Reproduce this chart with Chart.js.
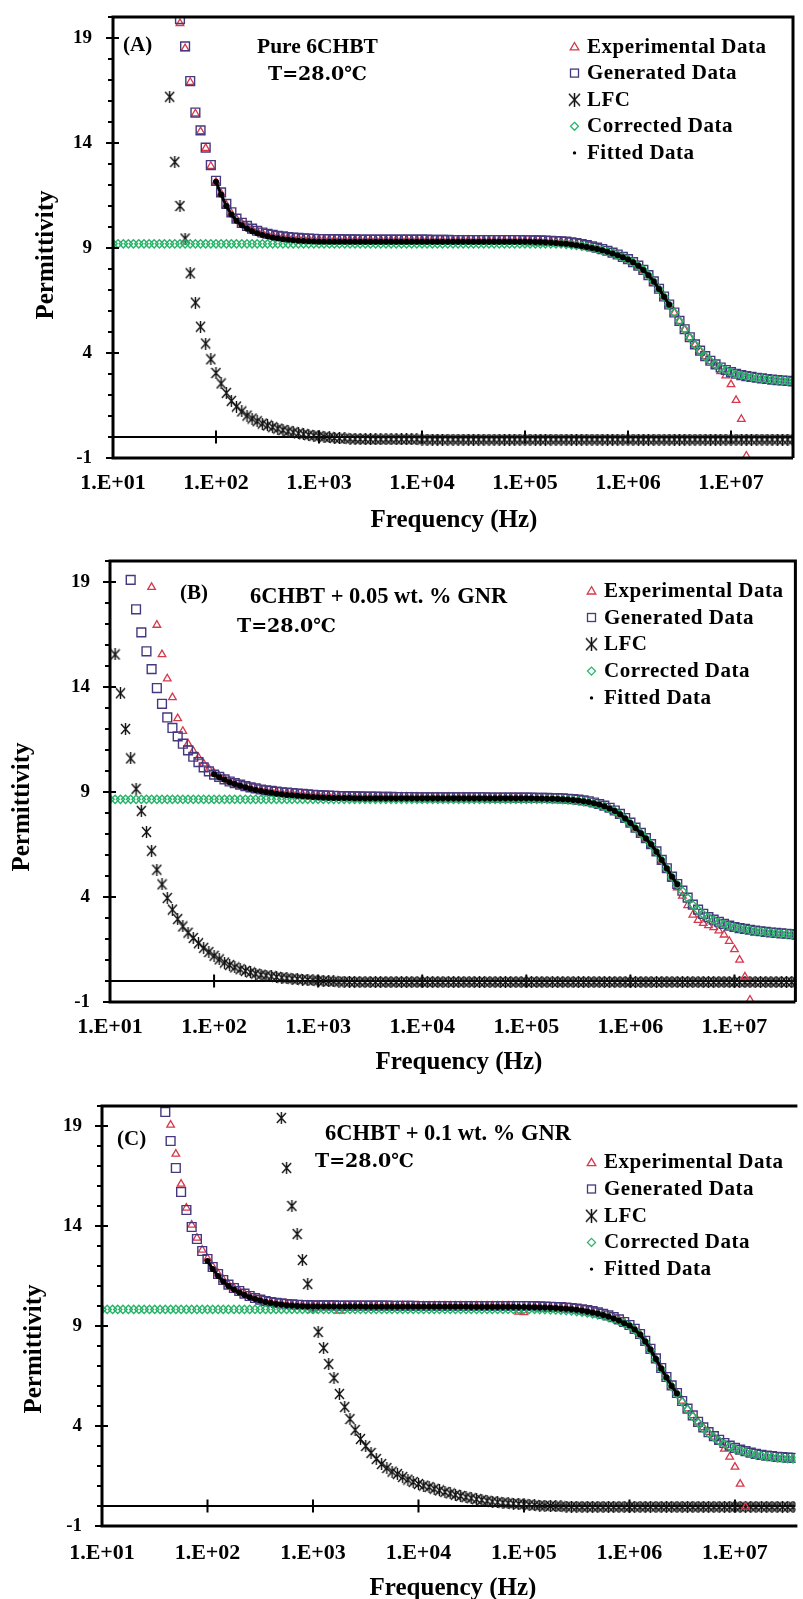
<!DOCTYPE html>
<html>
<head>
<meta charset="utf-8">
<title>Permittivity vs frequency - 6CHBT and GNR composites</title>
<script src="https://cdn.jsdelivr.net/npm/chart.js"></script>
<style>
  body { margin: 0; background: #fff; }
  .panel { position: absolute; left: 0; }
</style>
</head>
<body>
<canvas id="panelA" class="panel" width="803" height="540" style="top:0"></canvas>
<canvas id="panelB" class="panel" width="803" height="535" style="top:540px"></canvas>
<canvas id="panelC" class="panel" width="803" height="524" style="top:1075px"></canvas>
<script>
// frequency sweep (Hz), same for all three samples
const freq = [
  1.00e1, 1.12e1, 1.26e1, 1.41e1, 1.58e1, 1.78e1, 2.00e1, 2.24e1, 2.51e1, 2.82e1,
  3.16e1, 3.55e1, 3.98e1, 4.47e1, 5.01e1, 5.62e1, 6.31e1, 7.08e1, 7.94e1, 8.91e1,
  1.00e2, 1.12e2, 1.26e2, 1.41e2, 1.58e2, 1.78e2, 2.00e2, 2.24e2, 2.51e2, 2.82e2,
  3.16e2, 3.55e2, 3.98e2, 4.47e2, 5.01e2, 5.62e2, 6.31e2, 7.08e2, 7.94e2, 8.91e2,
  1.00e3, 1.12e3, 1.26e3, 1.41e3, 1.58e3, 1.78e3, 2.00e3, 2.24e3, 2.51e3, 2.82e3,
  3.16e3, 3.55e3, 3.98e3, 4.47e3, 5.01e3, 5.62e3, 6.31e3, 7.08e3, 7.94e3, 8.91e3,
  1.00e4, 1.12e4, 1.26e4, 1.41e4, 1.58e4, 1.78e4, 2.00e4, 2.24e4, 2.51e4, 2.82e4,
  3.16e4, 3.55e4, 3.98e4, 4.47e4, 5.01e4, 5.62e4, 6.31e4, 7.08e4, 7.94e4, 8.91e4,
  1.00e5, 1.12e5, 1.26e5, 1.41e5, 1.58e5, 1.78e5, 2.00e5, 2.24e5, 2.51e5, 2.82e5,
  3.16e5, 3.55e5, 3.98e5, 4.47e5, 5.01e5, 5.62e5, 6.31e5, 7.08e5, 7.94e5, 8.91e5,
  1.00e6, 1.12e6, 1.26e6, 1.41e6, 1.58e6, 1.78e6, 2.00e6, 2.24e6, 2.51e6, 2.82e6,
  3.16e6, 3.55e6, 3.98e6, 4.47e6, 5.01e6, 5.62e6, 6.31e6, 7.08e6, 7.94e6, 8.91e6,
  1.00e7, 1.12e7, 1.26e7, 1.41e7, 1.58e7, 1.78e7, 2.00e7, 2.24e7, 2.51e7, 2.82e7,
  3.16e7, 3.55e7, 3.98e7
];

const seriesNames = ['Experimental Data', 'Generated Data', 'LFC', 'Corrected Data', 'Fitted Data'];
const xTickValues = [1e1, 1e2, 1e3, 1e4, 1e5, 1e6, 1e7];
const xTickLabels = ['1.E+01', '1.E+02', '1.E+03', '1.E+04', '1.E+05', '1.E+06', '1.E+07'];
const yTickValues = [-1, 4, 9, 14, 19];

// (A) pure 6CHBT
const expA = [
  null, null, null, null, null, null, null, null, null, null,
  null, null, null, 19.7, 18.5, 16.9, 15.4, 14.55, 13.75, 12.9,
  12.15, 11.6, 11.05, 10.65, 10.38, 10.18, 10.03, 9.9, 9.8, 9.72,
  9.66, 9.61, 9.56, 9.53, 9.5, 9.48, 9.46, 9.44, 9.43, 9.42,
  9.41, 9.41, 9.4, 9.4, 9.4, 9.39, 9.39, 9.39, 9.38, 9.38,
  9.38, 9.38, 9.38, 9.38, 9.38, 9.38, 9.38, 9.38, 9.38, 9.38,
  9.38, 9.38, 9.37, 9.37, 9.37, 9.37, 9.37, 9.37, 9.37, 9.37,
  9.36, 9.36, 9.36, 9.36, 9.36, 9.36, 9.36, 9.36, 9.36, 9.36,
  9.36, 9.35, 9.35, 9.34, 9.33, 9.32, 9.31, 9.3, 9.28, 9.25,
  9.21, 9.17, 9.12, 9.06, 9.0, 8.93, 8.85, 8.76, 8.67, 8.56,
  8.45, 8.31, 8.14, 7.94, 7.69, 7.39, 7.04, 6.67, 6.29, 5.91,
  5.51, 5.11, 4.73, 4.39, 4.09, 3.83, 3.6, 3.4, 3.12, 2.92,
  2.5, 1.75, 0.85, -0.9, null, null, null, null, null, null,
  null, null, null
];
const genA = [
  null, null, null, null, null, null, null, null, null, null,
  null, null, null, 19.9, 18.6, 16.95, 15.45, 14.6, 13.78, 12.95,
  12.2, 11.65, 11.1, 10.7, 10.4, 10.2, 10.05, 9.92, 9.82, 9.74,
  9.68, 9.63, 9.58, 9.55, 9.52, 9.5, 9.48, 9.46, 9.45, 9.44,
  9.43, 9.43, 9.42, 9.42, 9.42, 9.41, 9.41, 9.41, 9.4, 9.4,
  9.4, 9.4, 9.4, 9.4, 9.4, 9.4, 9.4, 9.4, 9.4, 9.4,
  9.4, 9.4, 9.39, 9.39, 9.39, 9.39, 9.38, 9.38, 9.38, 9.38,
  9.38, 9.38, 9.38, 9.38, 9.38, 9.38, 9.38, 9.38, 9.38, 9.38,
  9.37, 9.37, 9.36, 9.36, 9.35, 9.34, 9.33, 9.32, 9.3, 9.27,
  9.23, 9.19, 9.14, 9.08, 9.02, 8.95, 8.87, 8.78, 8.69, 8.58,
  8.47, 8.33, 8.16, 7.96, 7.71, 7.41, 7.06, 6.69, 6.31, 5.93,
  5.53, 5.13, 4.75, 4.41, 4.11, 3.85, 3.63, 3.46, 3.31, 3.19,
  3.09, 3.01, 2.95, 2.9, 2.86, 2.82, 2.79, 2.76, 2.73, 2.71,
  2.69, 2.67, 2.65
];
const lfcA = [
  null, null, null, null, null, null, null, null, null, null,
  null, 16.2, 13.1, 11.0, 9.45, 7.8, 6.4, 5.25, 4.45, 3.7,
  3.05, 2.55, 2.1, 1.72, 1.45, 1.22, 1.02, 0.88, 0.75, 0.64,
  0.55, 0.47, 0.4, 0.33, 0.27, 0.22, 0.17, 0.13, 0.09, 0.06,
  0.03, 0, -0.02, -0.04, -0.06, -0.07, -0.08, -0.09, -0.1, -0.1,
  -0.11, -0.11, -0.11, -0.11, -0.11, -0.11, -0.11, -0.11, -0.11, -0.11,
  -0.12, -0.12, -0.12, -0.12, -0.12, -0.12, -0.12, -0.12, -0.12, -0.12,
  -0.12, -0.12, -0.12, -0.12, -0.12, -0.12, -0.12, -0.12, -0.12, -0.12,
  -0.12, -0.12, -0.12, -0.12, -0.12, -0.12, -0.12, -0.12, -0.12, -0.12,
  -0.12, -0.12, -0.12, -0.12, -0.12, -0.12, -0.12, -0.12, -0.12, -0.12,
  -0.12, -0.12, -0.12, -0.12, -0.12, -0.12, -0.12, -0.12, -0.12, -0.12,
  -0.12, -0.12, -0.12, -0.12, -0.12, -0.12, -0.12, -0.12, -0.12, -0.12,
  -0.12, -0.12, -0.12, -0.12, -0.12, -0.12, -0.12, -0.12, -0.12, -0.12,
  -0.12, -0.12, -0.12
];
const corrA = [
  9.2, 9.2, 9.2, 9.2, 9.2, 9.2, 9.2, 9.2, 9.2, 9.2,
  9.2, 9.2, 9.2, 9.2, 9.2, 9.2, 9.2, 9.2, 9.2, 9.2,
  9.2, 9.2, 9.2, 9.2, 9.2, 9.2, 9.2, 9.2, 9.2, 9.2,
  9.2, 9.2, 9.2, 9.2, 9.2, 9.2, 9.2, 9.2, 9.2, 9.2,
  9.2, 9.2, 9.2, 9.2, 9.2, 9.2, 9.2, 9.2, 9.2, 9.2,
  9.2, 9.2, 9.2, 9.2, 9.2, 9.2, 9.2, 9.2, 9.2, 9.2,
  9.2, 9.2, 9.2, 9.2, 9.2, 9.2, 9.2, 9.2, 9.2, 9.2,
  9.2, 9.2, 9.2, 9.2, 9.2, 9.2, 9.2, 9.2, 9.2, 9.2,
  9.2, 9.2, 9.2, 9.2, 9.2, 9.2, 9.2, 9.19, 9.17, 9.15,
  9.12, 9.09, 9.05, 9.0, 8.95, 8.89, 8.82, 8.74, 8.66, 8.56,
  8.45, 8.32, 8.15, 7.95, 7.7, 7.4, 7.05, 6.68, 6.3, 5.92,
  5.52, 5.12, 4.74, 4.4, 4.1, 3.84, 3.62, 3.45, 3.3, 3.18,
  3.08, 3.0, 2.94, 2.89, 2.85, 2.81, 2.78, 2.75, 2.72, 2.7,
  2.68, 2.66, 2.64
];
const fitA = [
  null, null, null, null, null, null, null, null, null, null,
  null, null, null, null, null, null, null, null, null, null,
  12.15, 11.55, 11.0, 10.6, 10.3, 10.08, 9.92, 9.8, 9.7, 9.62,
  9.56, 9.5, 9.46, 9.42, 9.39, 9.37, 9.35, 9.33, 9.32, 9.31,
  9.3, 9.3, 9.3, 9.3, 9.3, 9.3, 9.3, 9.3, 9.3, 9.3,
  9.3, 9.3, 9.3, 9.3, 9.3, 9.3, 9.3, 9.3, 9.3, 9.3,
  9.3, 9.3, 9.3, 9.3, 9.3, 9.3, 9.3, 9.3, 9.3, 9.3,
  9.3, 9.3, 9.3, 9.3, 9.3, 9.3, 9.3, 9.3, 9.3, 9.3,
  9.3, 9.3, 9.29, 9.28, 9.27, 9.26, 9.24, 9.22, 9.2, 9.17,
  9.13, 9.09, 9.05, 9.0, 8.95, 8.89, 8.82, 8.74, 8.66, 8.56,
  8.45, 8.32, 8.15, 7.95, 7.7, 7.4, 7.05, 6.68, 6.3, null,
  null, null, null, null, null, null, null, null, null, null,
  null, null, null, null, null, null, null, null, null, null,
  null, null, null
];

// (B) 6CHBT + 0.05 wt.% GNR
const expB = [
  null, null, null, null, null, null, null, null, 18.75, 16.95,
  15.55, 14.4, 13.5, 12.5, 11.9, 11.3, 10.95, 10.65, 10.35, 10.1,
  9.9, 9.75, 9.62, 9.51, 9.42, 9.34, 9.27, 9.21, 9.16, 9.11,
  9.07, 9.04, 9.01, 8.98, 8.96, 8.94, 8.92, 8.9, 8.88, 8.86,
  8.84, 8.83, 8.82, 8.81, 8.8, 8.79, 8.79, 8.78, 8.78, 8.77,
  8.77, 8.77, 8.77, 8.77, 8.77, 8.76, 8.76, 8.76, 8.76, 8.76,
  8.75, 8.75, 8.75, 8.75, 8.75, 8.75, 8.75, 8.75, 8.75, 8.75,
  8.74, 8.74, 8.74, 8.74, 8.74, 8.74, 8.74, 8.74, 8.74, 8.74,
  8.73, 8.72, 8.72, 8.71, 8.71, 8.7, 8.69, 8.68, 8.66, 8.64,
  8.62, 8.58, 8.53, 8.47, 8.4, 8.32, 8.21, 8.08, 7.92, 7.72,
  7.5, 7.26, 7.01, 6.75, 6.46, 6.1, 5.7, 5.28, 4.85, 4.45,
  4.05, 3.6, 3.15, 2.9, 2.75, 2.65, 2.55, 2.4, 2.2, 1.9,
  1.5, 1.0, 0.2, -0.9, null, null, null, null, null, null,
  null, null, -0.95
];
const genB = [
  null, null, null, null, 19.1, 17.7, 16.6, 15.7, 14.85, 13.95,
  13.2, 12.55, 12.05, 11.65, 11.3, 10.98, 10.68, 10.42, 10.17, 9.98,
  9.83, 9.72, 9.6, 9.5, 9.42, 9.35, 9.28, 9.22, 9.17, 9.12,
  9.08, 9.05, 9.02, 8.99, 8.97, 8.95, 8.93, 8.91, 8.89, 8.87,
  8.85, 8.84, 8.83, 8.82, 8.81, 8.8, 8.8, 8.79, 8.79, 8.78,
  8.78, 8.78, 8.77, 8.77, 8.77, 8.76, 8.76, 8.76, 8.76, 8.75,
  8.75, 8.75, 8.75, 8.75, 8.75, 8.75, 8.75, 8.75, 8.75, 8.75,
  8.75, 8.75, 8.75, 8.74, 8.74, 8.74, 8.74, 8.74, 8.73, 8.73,
  8.73, 8.73, 8.72, 8.72, 8.72, 8.71, 8.71, 8.7, 8.68, 8.66,
  8.64, 8.6, 8.56, 8.5, 8.43, 8.35, 8.25, 8.12, 7.96, 7.76,
  7.54, 7.3, 7.05, 6.8, 6.52, 6.17, 5.77, 5.37, 4.97, 4.62,
  4.3, 3.97, 3.64, 3.4, 3.2, 3.04, 2.92, 2.82, 2.72, 2.64,
  2.57, 2.52, 2.48, 2.44, 2.4, 2.37, 2.34, 2.31, 2.29, 2.27,
  2.25, 2.23, 2.21
];
const lfcB = [
  null, 15.55, 13.7, 12.0, 10.6, 9.15, 8.1, 7.1, 6.2, 5.3,
  4.6, 3.95, 3.4, 2.95, 2.6, 2.3, 2.05, 1.8, 1.58, 1.38,
  1.2, 1.03, 0.88, 0.76, 0.65, 0.56, 0.48, 0.41, 0.35, 0.3,
  0.26, 0.22, 0.19, 0.16, 0.13, 0.11, 0.09, 0.07, 0.05, 0.03,
  0.02, 0, -0.01, -0.02, -0.03, -0.03, -0.04, -0.04, -0.05, -0.05,
  -0.05, -0.05, -0.05, -0.05, -0.05, -0.05, -0.05, -0.05, -0.05, -0.05,
  -0.05, -0.05, -0.05, -0.05, -0.05, -0.05, -0.05, -0.05, -0.05, -0.05,
  -0.05, -0.05, -0.05, -0.05, -0.05, -0.05, -0.05, -0.05, -0.05, -0.05,
  -0.05, -0.05, -0.05, -0.05, -0.05, -0.05, -0.05, -0.05, -0.05, -0.05,
  -0.05, -0.05, -0.05, -0.05, -0.05, -0.05, -0.05, -0.05, -0.05, -0.05,
  -0.05, -0.05, -0.05, -0.05, -0.05, -0.05, -0.05, -0.05, -0.05, -0.05,
  -0.05, -0.05, -0.05, -0.05, -0.05, -0.05, -0.05, -0.05, -0.05, -0.05,
  -0.05, -0.05, -0.05, -0.05, -0.05, -0.05, -0.05, -0.05, -0.05, -0.05,
  -0.05, -0.05, -0.05
];
const corrB = [
  8.65, 8.65, 8.65, 8.65, 8.65, 8.65, 8.65, 8.65, 8.65, 8.65,
  8.65, 8.65, 8.65, 8.65, 8.65, 8.65, 8.65, 8.65, 8.65, 8.65,
  8.65, 8.65, 8.65, 8.65, 8.65, 8.65, 8.65, 8.65, 8.65, 8.65,
  8.65, 8.65, 8.65, 8.65, 8.65, 8.65, 8.65, 8.65, 8.65, 8.65,
  8.65, 8.65, 8.65, 8.65, 8.65, 8.65, 8.65, 8.65, 8.65, 8.65,
  8.65, 8.65, 8.65, 8.65, 8.65, 8.65, 8.65, 8.65, 8.65, 8.65,
  8.65, 8.65, 8.65, 8.65, 8.65, 8.65, 8.65, 8.65, 8.65, 8.65,
  8.65, 8.65, 8.65, 8.65, 8.65, 8.65, 8.65, 8.65, 8.65, 8.65,
  8.65, 8.65, 8.65, 8.65, 8.65, 8.65, 8.65, 8.64, 8.62, 8.6,
  8.58, 8.54, 8.5, 8.45, 8.38, 8.3, 8.2, 8.08, 7.92, 7.72,
  7.5, 7.27, 7.02, 6.78, 6.5, 6.15, 5.75, 5.35, 4.95, 4.6,
  4.28, 3.95, 3.62, 3.38, 3.18, 3.02, 2.9, 2.8, 2.7, 2.62,
  2.55, 2.5, 2.46, 2.42, 2.38, 2.35, 2.32, 2.29, 2.27, 2.25,
  2.23, 2.21, 2.19
];
const fitB = [
  null, null, null, null, null, null, null, null, null, null,
  null, null, null, null, null, null, null, null, null, null,
  9.85, 9.7, 9.58, 9.47, 9.38, 9.3, 9.23, 9.16, 9.1, 9.05,
  9.0, 8.96, 8.92, 8.89, 8.86, 8.84, 8.82, 8.8, 8.78, 8.76,
  8.75, 8.74, 8.73, 8.72, 8.72, 8.71, 8.71, 8.7, 8.7, 8.7,
  8.7, 8.7, 8.7, 8.7, 8.7, 8.7, 8.7, 8.7, 8.7, 8.7,
  8.7, 8.7, 8.7, 8.7, 8.7, 8.7, 8.7, 8.7, 8.7, 8.7,
  8.7, 8.7, 8.7, 8.7, 8.7, 8.7, 8.7, 8.7, 8.7, 8.7,
  8.7, 8.7, 8.69, 8.69, 8.68, 8.68, 8.67, 8.66, 8.64, 8.62,
  8.6, 8.56, 8.52, 8.47, 8.4, 8.32, 8.22, 8.1, 7.94, 7.74,
  7.52, 7.28, 7.03, 6.79, 6.51, 6.16, 5.76, 5.36, 4.96, 4.61,
  null, null, null, null, null, null, null, null, null, null,
  null, null, null, null, null, null, null, null, null, null,
  null, null, null
];

// (C) 6CHBT + 0.1 wt.% GNR
const expC = [
  null, null, null, null, null, null, null, null, null, null,
  null, null, null, 19.05, 17.6, 16.1, 14.9, 14.05, 13.4, 12.8,
  12.38, 11.97, 11.62, 11.32, 11.08, 10.9, 10.75, 10.62, 10.5, 10.4,
  10.32, 10.25, 10.2, 10.16, 10.13, 10.1, 10.08, 10.06, 10.05, 10.04,
  10.03, 10.03, 10.02, 10.02, 10.02, 9.75, 10.02, 10.02, 10.01, 10.01,
  10.01, 10.01, 10.01, 10.01, 10.01, 10.01, 10.01, 10.01, 10.01, 10.01,
  10.0, 10.0, 10.0, 10.0, 10.0, 10.0, 10.0, 10.0, 10.0, 10.0,
  10.0, 10.0, 10.0, 10.0, 10.0, 10.0, 10.0, 10.0, 10.0, 9.7,
  9.68, 9.98, 9.98, 9.97, 9.96, 9.95, 9.94, 9.93, 9.91, 9.89,
  9.86, 9.82, 9.78, 9.73, 9.67, 9.6, 9.52, 9.43, 9.32, 9.19,
  9.04, 8.85, 8.59, 8.25, 7.85, 7.37, 6.89, 6.44, 6.02, 5.64,
  5.25, 4.87, 4.53, 4.21, 3.93, 3.69, 3.45, 3.2, 2.85, 2.45,
  1.95, 1.1, -0.05, null, null, null, null, null, null, null,
  null, null, -0.95
];
const genC = [
  null, null, null, null, null, null, null, null, null, null,
  null, null, 19.7, 18.25, 16.9, 15.7, 14.8, 13.95, 13.35, 12.75,
  12.35, 11.95, 11.6, 11.3, 11.07, 10.9, 10.75, 10.62, 10.5, 10.4,
  10.32, 10.25, 10.2, 10.16, 10.13, 10.1, 10.08, 10.06, 10.05, 10.04,
  10.03, 10.03, 10.03, 10.03, 10.03, 10.02, 10.02, 10.02, 10.02, 10.02,
  10.02, 10.02, 10.02, 10.02, 10.02, 10.01, 10.01, 10.01, 10.01, 10.01,
  10.0, 10.0, 10.0, 10.0, 10.0, 10.0, 10.0, 10.0, 10.0, 10.0,
  10.0, 10.0, 10.0, 10.0, 10.0, 10.0, 10.0, 10.0, 10.0, 10.0,
  10.0, 10.0, 9.99, 9.98, 9.97, 9.96, 9.95, 9.94, 9.92, 9.9,
  9.87, 9.83, 9.79, 9.74, 9.68, 9.61, 9.53, 9.44, 9.33, 9.2,
  9.05, 8.86, 8.6, 8.26, 7.86, 7.38, 6.9, 6.45, 6.03, 5.65,
  5.25, 4.87, 4.53, 4.21, 3.93, 3.69, 3.49, 3.31, 3.15, 3.02,
  2.91, 2.82, 2.74, 2.67, 2.61, 2.56, 2.52, 2.49, 2.46, 2.44,
  2.42, 2.41, 2.4
];
const lfcC = [
  null, null, null, null, null, null, null, null, null, null,
  null, null, null, null, null, null, null, null, null, null,
  null, null, null, null, null, null, null, null, null, null,
  null, null, null, null, 19.4, 16.9, 15.0, 13.6, 12.3, 11.1,
  9.9, 8.7, 7.9, 7.1, 6.4, 5.6, 4.95, 4.35, 3.8, 3.35,
  3.0, 2.65, 2.35, 2.1, 1.9, 1.72, 1.6, 1.45, 1.32, 1.2,
  1.1, 1.02, 0.95, 0.86, 0.78, 0.7, 0.63, 0.56, 0.5, 0.44,
  0.39, 0.34, 0.3, 0.26, 0.22, 0.19, 0.16, 0.14, 0.12, 0.1,
  0.08, 0.06, 0.04, 0.02, 0.01, 0, -0.01, -0.02, -0.03, -0.03,
  -0.04, -0.04, -0.04, -0.04, -0.04, -0.04, -0.04, -0.04, -0.04, -0.04,
  -0.04, -0.04, -0.04, -0.04, -0.04, -0.04, -0.04, -0.04, -0.04, -0.04,
  -0.04, -0.04, -0.04, -0.04, -0.04, -0.04, -0.04, -0.04, -0.04, -0.04,
  -0.04, -0.04, -0.04, -0.04, -0.04, -0.04, -0.04, -0.04, -0.04, -0.04,
  -0.04, -0.04, -0.04
];
const corrC = [
  9.83, 9.83, 9.83, 9.83, 9.83, 9.83, 9.83, 9.83, 9.83, 9.83,
  9.83, 9.83, 9.83, 9.83, 9.83, 9.83, 9.83, 9.83, 9.83, 9.83,
  9.83, 9.83, 9.83, 9.83, 9.83, 9.83, 9.83, 9.83, 9.83, 9.83,
  9.83, 9.83, 9.83, 9.83, 9.83, 9.83, 9.83, 9.83, 9.83, 9.83,
  9.83, 9.83, 9.83, 9.83, 9.83, 9.83, 9.83, 9.83, 9.83, 9.83,
  9.83, 9.83, 9.83, 9.83, 9.83, 9.83, 9.83, 9.83, 9.83, 9.83,
  9.83, 9.83, 9.83, 9.83, 9.83, 9.83, 9.83, 9.83, 9.83, 9.83,
  9.83, 9.83, 9.83, 9.83, 9.83, 9.83, 9.83, 9.83, 9.83, 9.83,
  9.83, 9.83, 9.83, 9.82, 9.82, 9.81, 9.8, 9.79, 9.77, 9.75,
  9.72, 9.69, 9.65, 9.61, 9.56, 9.5, 9.43, 9.35, 9.25, 9.14,
  9.0, 8.8, 8.55, 8.2, 7.8, 7.32, 6.85, 6.4, 5.98, 5.6,
  5.2, 4.82, 4.48, 4.16, 3.88, 3.64, 3.44, 3.26, 3.1, 2.97,
  2.86, 2.77, 2.69, 2.62, 2.56, 2.51, 2.47, 2.44, 2.41, 2.39,
  2.37, 2.36, 2.35
];
const fitC = [
  null, null, null, null, null, null, null, null, null, null,
  null, null, null, null, null, null, null, null, null, null,
  12.25, 11.85, 11.5, 11.22, 11.0, 10.82, 10.68, 10.55, 10.44, 10.35,
  10.27, 10.2, 10.15, 10.1, 10.07, 10.04, 10.02, 10.0, 9.99, 9.98,
  9.97, 9.97, 9.97, 9.97, 9.97, 9.97, 9.97, 9.97, 9.97, 9.97,
  9.96, 9.96, 9.96, 9.96, 9.96, 9.96, 9.96, 9.96, 9.96, 9.96,
  9.96, 9.96, 9.96, 9.96, 9.96, 9.96, 9.96, 9.96, 9.96, 9.96,
  9.95, 9.95, 9.95, 9.95, 9.95, 9.95, 9.95, 9.95, 9.95, 9.95,
  9.95, 9.94, 9.94, 9.93, 9.92, 9.91, 9.9, 9.88, 9.86, 9.84,
  9.81, 9.77, 9.73, 9.68, 9.62, 9.55, 9.47, 9.38, 9.27, 9.14,
  9.02, 8.83, 8.57, 8.23, 7.83, 7.35, 6.87, 6.42, 6.0, 5.62,
  null, null, null, null, null, null, null, null, null, null,
  null, null, null, null, null, null, null, null, null, null,
  null, null, null
];

const SERIF = '"Liberation Serif", "Times New Roman", serif';
const colExp = '#d6394b';
const colGen = '#46387e';
const colCorr = '#27b368';
const colLfc = '#111111';

// six-armed asterisk used for the LFC points
function asterisk(w, h, color, lw) {
  const c = document.createElement('canvas');
  c.width = w; c.height = h;
  const g = c.getContext('2d');
  g.strokeStyle = color;
  g.lineWidth = lw;
  g.beginPath();
  g.moveTo(1, 1); g.lineTo(w - 1, h - 1);
  g.moveTo(w - 1, 1); g.lineTo(1, h - 1);
  g.moveTo(w / 2, 0); g.lineTo(w / 2, h);
  g.stroke();
  return c;
}
const lfcMark = asterisk(11, 12, colLfc, 1.4);
const lfcLegendMark = asterisk(13, 14, colLfc, 1.5);

function pairs(values) {
  return freq.map((f, i) => ({ x: f, y: values[i] })).filter(p => p.y != null);
}

function makeDatasets(p) {
  return [
    { label: seriesNames[0], data: pairs(p.exp), pointStyle: 'triangle', pointRadius: 4.4,
      borderColor: colExp, backgroundColor: 'rgba(0,0,0,0)', borderWidth: 1.3, order: 3 },
    { label: seriesNames[1], data: pairs(p.gen), pointStyle: 'rect', pointRadius: 6.2,
      borderColor: colGen, backgroundColor: 'rgba(0,0,0,0)', borderWidth: 1.4, order: 2 },
    { label: seriesNames[2], data: pairs(p.lfc), pointStyle: lfcMark, pointRadius: 6,
      borderColor: colLfc, order: 4 },
    { label: seriesNames[3], data: pairs(p.corr), pointStyle: 'rectRot', pointRadius: 4.1,
      borderColor: colCorr, backgroundColor: 'rgba(0,0,0,0)', borderWidth: 1.4, order: 1 },
    { label: seriesNames[4], data: pairs(p.fit), showLine: true, borderColor: '#000', borderWidth: 3,
      pointRadius: 1.5, pointBackgroundColor: '#000', order: 0 }
  ];
}

// zero line with decade ticks, plot frame and y tick marks
const axisFrame = {
  id: 'axisFrame',
  beforeDatasetsDraw(chart) {
    const { ctx, chartArea: a, scales: { x, y } } = chart;
    const y0 = y.getPixelForValue(0);
    ctx.save();
    ctx.strokeStyle = '#000';
    ctx.lineWidth = 2;
    ctx.beginPath();
    ctx.moveTo(a.left, y0);
    ctx.lineTo(a.right, y0);
    xTickValues.forEach(v => {
      if (v <= x.min) return;
      const px = x.getPixelForValue(v);
      ctx.moveTo(px, y0 - 6.5);
      ctx.lineTo(px, y0 + 6.5);
    });
    ctx.stroke();
    ctx.restore();
  },
  afterDatasetsDraw(chart, args, opts) {
    const { ctx, chartArea: a, scales: { y } } = chart;
    ctx.save();
    ctx.strokeStyle = '#000';
    ctx.lineWidth = 3;
    ctx.beginPath();
    if (opts.right) {
      ctx.moveTo(a.right, a.bottom);
      ctx.lineTo(a.right, a.top);
    } else {
      ctx.moveTo(a.right + 2, a.top);
    }
    ctx.lineTo(a.left, a.top);
    ctx.lineTo(a.left, a.bottom);
    ctx.lineTo(a.right + (opts.right ? 0 : 2), a.bottom);
    ctx.stroke();
    ctx.lineWidth = 2;
    ctx.beginPath();
    for (let v = y.min; v <= y.max; v++) {
      const py = y.getPixelForValue(v);
      const major = yTickValues.includes(v);
      ctx.moveTo(a.left - (major ? 7 : 5), py);
      ctx.lineTo(a.left + (major ? 6 : 0), py);
    }
    ctx.stroke();
    ctx.restore();
  }
};

function drawLegendMark(ctx, i, x, y) {
  ctx.save();
  ctx.lineWidth = 1.3;
  ctx.beginPath();
  if (i === 0) {
    ctx.strokeStyle = colExp;
    ctx.moveTo(x, y - 4);
    ctx.lineTo(x + 4.3, y + 3.3);
    ctx.lineTo(x - 4.3, y + 3.3);
    ctx.closePath();
    ctx.stroke();
  } else if (i === 1) {
    ctx.strokeStyle = colGen;
    ctx.strokeRect(x - 4, y - 4, 8, 8);
  } else if (i === 2) {
    ctx.drawImage(lfcLegendMark, x - lfcLegendMark.width / 2, y - lfcLegendMark.height / 2);
  } else if (i === 3) {
    ctx.strokeStyle = colCorr;
    ctx.moveTo(x, y - 4); ctx.lineTo(x + 4, y); ctx.lineTo(x, y + 4); ctx.lineTo(x - 4, y);
    ctx.closePath();
    ctx.stroke();
  } else {
    ctx.fillStyle = '#000';
    ctx.arc(x, y, 1.7, 0, Math.PI * 2);
    ctx.fill();
  }
  ctx.restore();
}

const markLegend = {
  id: 'markLegend',
  afterDraw(chart, args, opts) {
    const ctx = chart.ctx;
    ctx.save();
    ctx.font = 'bold 21px ' + SERIF;
    ctx.letterSpacing = '0.5px';
    ctx.textAlign = 'left';
    ctx.textBaseline = 'alphabetic';
    chart.data.datasets.forEach((ds, i) => {
      const yb = opts.y + i * opts.step;
      drawLegendMark(ctx, i, opts.x - 12.5, yb - 6);
      ctx.fillStyle = '#000';
      ctx.fillText(ds.label, opts.x, yb);
    });
    ctx.restore();
  }
};

const panelNotes = {
  id: 'panelNotes',
  afterDraw(chart, args, opts) {
    const ctx = chart.ctx;
    ctx.save();
    ctx.fillStyle = '#000';
    (opts.items || []).forEach(t => {
      ctx.font = t.font;
      ctx.textAlign = t.align || 'left';
      ctx.textBaseline = t.baseline || 'alphabetic';
      if (t.rotate) {
        ctx.save();
        ctx.translate(t.x, t.y);
        ctx.rotate(-Math.PI / 2);
        ctx.fillText(t.text, 0, 0);
        ctx.restore();
      } else {
        ctx.fillText(t.text, t.x, t.y);
      }
    });
    ctx.restore();
  }
};

const F_TAG = 'bold 21px ' + SERIF;
const F_SAMPLE = 'bold 22.5px ' + SERIF;
const F_TEMP = 'bold 19px "DejaVu Serif", serif';
const F_TITLE = 'bold 25px ' + SERIF;

function notes(tag, sample, temp, yTitle, xTitle) {
  return [
    { text: tag[0], x: tag[1], y: tag[2], font: F_TAG },
    { text: sample[0], x: sample[1], y: sample[2], font: sample[3] || F_SAMPLE },
    { text: 'T=28.0℃', x: temp[0], y: temp[1], font: F_TEMP },
    { text: 'Permittivity', x: yTitle[0], y: yTitle[1], font: F_TITLE, rotate: true, align: 'center', baseline: 'middle' },
    { text: 'Frequency (Hz)', x: xTitle[0], y: xTitle[1], font: F_TITLE, align: 'center' }
  ];
}

const panels = [
  { id: 'panelA', exp: expA, gen: genA, lfc: lfcA, corr: corrA, fit: fitA, xMax: 4.0e7,
    area: { left: 113, right: 793, top: 17, bottom: 458 }, yPad: 21, xPad: 12, frameRight: true,
    legend: { x: 587, y: 52.5, step: 26.6 },
    notes: notes(['(A)', 123, 51], ['Pure 6CHBT', 257, 53, 'bold 21.5px ' + SERIF], [268, 80], [47, 255], [454, 527]) },
  { id: 'panelB', exp: expB, gen: genB, lfc: lfcB, corr: corrB, fit: fitB, xMax: 3.85e7,
    area: { left: 110, right: 802, top: 21, bottom: 462 }, yPad: 20, xPad: 12, frameRight: true,
    legend: { x: 604, y: 56.7, step: 26.8 },
    notes: notes(['(B)', 180, 58.5], ['6CHBT + 0.05 wt. % GNR', 250, 62.7], [237, 91.7], [23, 267], [459, 529]) },
  { id: 'panelC', exp: expC, gen: genC, lfc: lfcC, corr: corrC, fit: fitC, xMax: 3.74e7,
    area: { left: 102, right: 803, top: 31, bottom: 451 }, yPad: 20, xPad: 14, frameRight: false,
    legend: { x: 604, y: 93.3, step: 26.7 },
    notes: notes(['(C)', 117, 70], ['6CHBT + 0.1 wt. % GNR', 325, 65], [315, 91.7], [35, 274], [453, 519.5]) }
];

function buildPanel(p) {
  const cv = document.getElementById(p.id);
  const xHeight = cv.height - p.area.bottom;
  return new Chart(cv, {
    type: 'scatter',
    data: { datasets: makeDatasets(p) },
    options: {
      responsive: false,
      animation: false,
      events: [],
      layout: { padding: { left: 0, top: p.area.top, right: cv.width - p.area.right, bottom: 0 } },
      scales: {
        x: {
          type: 'logarithmic',
          min: 10,
          max: p.xMax,
          afterBuildTicks: s => { s.ticks = xTickValues.map(v => ({ value: v })); },
          afterFit: s => {
            s.height = xHeight;
            s.paddingLeft = 0; s.paddingRight = 0;
          },
          ticks: {
            autoSkip: false, maxRotation: 0, padding: p.xPad, color: '#000',
            font: { family: SERIF, size: 22, weight: 'bold' },
            callback: (v, i) => xTickLabels[i]
          },
          grid: { display: false, drawTicks: false },
          border: { display: false }
        },
        y: {
          min: -1,
          max: 20,
          afterBuildTicks: s => { s.ticks = yTickValues.map(v => ({ value: v })); },
          afterFit: s => {
            s.width = p.area.left;
            s.paddingTop = 0; s.paddingBottom = 0;
          },
          ticks: {
            padding: p.yPad, color: '#000',
            font: { family: SERIF, size: 19, weight: 'bold' },
            callback: v => String(v)
          },
          grid: { display: false, drawTicks: false },
          border: { display: false }
        }
      },
      plugins: {
        legend: { display: false },
        tooltip: { enabled: false },
        axisFrame: { right: p.frameRight },
        markLegend: p.legend,
        panelNotes: { items: p.notes }
      }
    },
    plugins: [axisFrame, markLegend, panelNotes]
  });
}

panels.forEach(buildPanel);
</script>
</body>
</html>
